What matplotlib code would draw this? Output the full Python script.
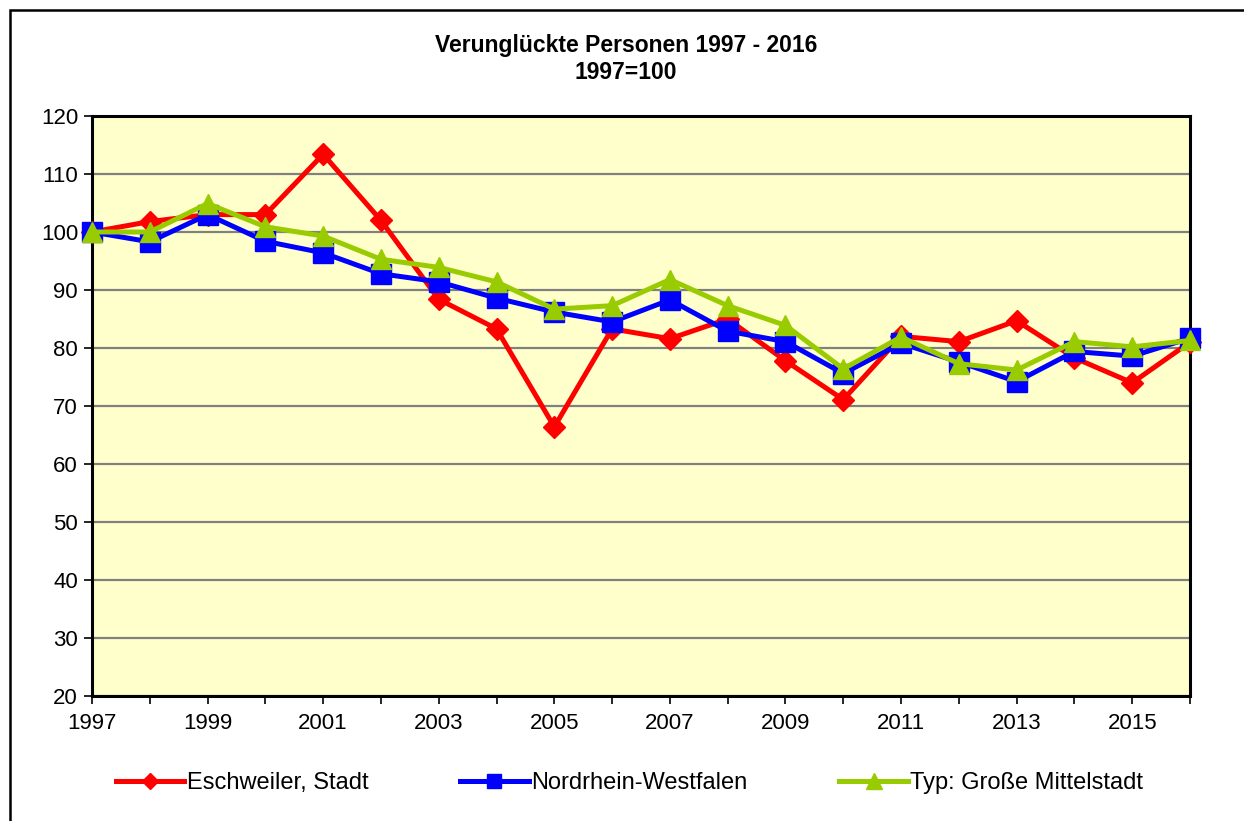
import matplotlib
matplotlib.use("Agg")
import matplotlib.pyplot as plt
from matplotlib.patches import Rectangle
from matplotlib.ticker import MultipleLocator

years = list(range(1997, 2017))
eschweiler = [100, 101.8, 103, 103, 113.4, 102, 88.4, 83.3, 66.4, 83.3,
              81.6, 85, 77.8, 71.1, 82, 81.1, 84.7, 78.3, 74, 81]
nrw = [100, 98.3, 103, 98.4, 96.4, 92.8, 91.4, 88.6, 86.2, 84.5,
       88.3, 82.9, 81.1, 75.6, 80.8, 77.6, 74.2, 79.4, 78.6, 81.7]
typ = [100, 100, 104.9, 100.9, 99.3, 95.3, 93.9, 91.4, 86.7, 87.3,
       91.8, 87.3, 83.9, 76.4, 81.9, 77.3, 76.2, 81.1, 80.2, 81.3]
labels = ["Eschweiler, Stadt", "Nordrhein-Westfalen", "Typ: Große Mittelstadt"]
title = "Verunglückte Personen 1997 - 2016\n1997=100"

plt.rcParams['font.family'] = ['Liberation Sans', 'DejaVu Sans']

W, H = 1244, 821
fig = plt.figure(figsize=(W / 100, H / 100), dpi=100)
fig.patch.set_facecolor("white")

# outer frame
fig.add_artist(Rectangle((10 / W, -0.01), 1.02, 1 - 10 / H + 0.01, transform=fig.transFigure,
                         fill=False, edgecolor="black", linewidth=1.8))

ax = fig.add_axes([92 / W, 1 - 696 / H, (1190 - 92) / W, (696 - 116) / H])
ax.set_facecolor("#FFFFCC")

ax.plot(years, eschweiler, color="#FF0000", lw=3.6, marker="D", ms=11.5,
        mfc="#FF0000", mec="#FF0000", label=labels[0], zorder=3, clip_on=False)
ax.plot(years, nrw, color="#0000FF", lw=3.6, marker="s", ms=14,
        mfc="#0000FF", mec="#0000FF", label=labels[1], zorder=4, clip_on=False)
ax.plot(years, typ, color="#99CC00", lw=3.6, marker="^", ms=14.5,
        mfc="#99CC00", mec="#99CC00", label=labels[2], zorder=5, clip_on=False)

ax.set_xlim(1997, 2016)
ax.set_ylim(20, 120)
ax.yaxis.set_major_locator(MultipleLocator(10))
ax.set_xticks(list(range(1997, 2016, 2)))
ax.set_xticks(years, minor=True)
ax.grid(axis="y", color="#808080", lw=1.6, zorder=1)
ax.set_axisbelow(True)
for s in ax.spines.values():
    s.set_linewidth(2.2)
    s.set_color("black")
    s.set_zorder(2.5)
ax.tick_params(axis="both", which="major", labelsize=16, length=6, width=1.2, direction="out")
ax.tick_params(axis="x", which="minor", length=6, width=1.2, direction="out")
ax.tick_params(axis="x", pad=6)
ax.tick_params(axis="y", pad=4)

fig.text(0.503, 1 - 59 / H, title, ha="center", va="center", fontsize=16.5,
         fontweight="bold", linespacing=1.25)

fig.legend(loc="center", bbox_to_anchor=(0.506, 1 - 783 / H), ncol=3, frameon=False,
           fontsize=17, columnspacing=3.9, handlelength=2.9, handletextpad=0.1,
           markerscale=0.75)

fig.savefig("out.png", dpi=100, facecolor="white")
